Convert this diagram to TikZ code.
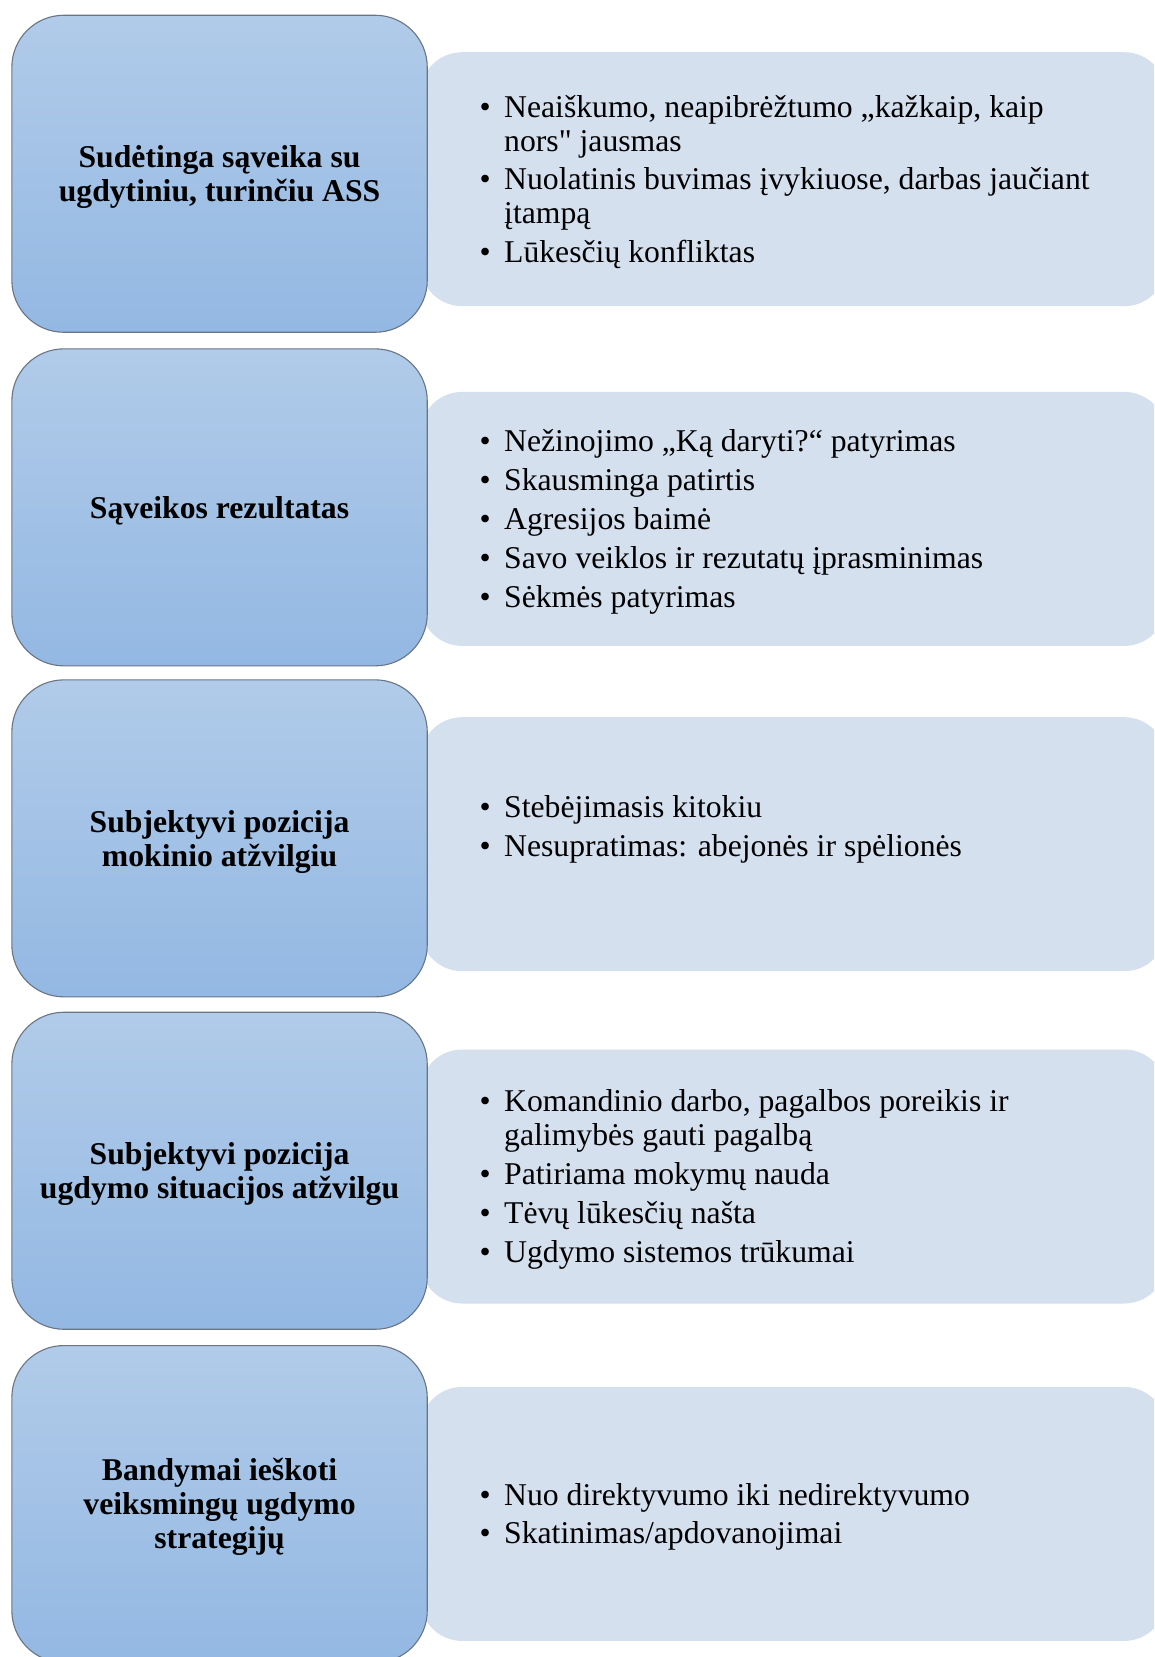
\documentclass[tikz,border=0pt]{standalone}
\usepackage{fontspec}
\setmainfont{Liberation Serif}[Ligatures=TeXOff]
\definecolor{boxtop}{RGB}{177,203,233}
\definecolor{boxbot}{RGB}{147,184,227}
\definecolor{boxline}{RGB}{105,117,133}
\definecolor{panelfill}{RGB}{213,224,239}
\newcommand{\bl}{\makebox[24.5pt][l]{\textbullet}}
\newcommand{\ind}{\hspace*{24.5pt}}
\tikzset{
  titlebox/.style={draw=boxline, line width=1.1pt, rounded corners=52pt,
    top color=boxtop, bottom color=boxbot,
    minimum width=415.4pt, minimum height=317pt, inner sep=0pt, anchor=north west},
  titletext/.style={inner sep=0pt, font=\bfseries\fontsize{31.7}{34}\selectfont},
  panel/.style={fill=panelfill, rounded corners=42pt,
    minimum width=746pt, minimum height=254pt, inner sep=0pt, anchor=north west},
  listtext/.style={anchor=west, inner sep=0pt, font=\fontsize{31.7}{34}\selectfont}
}
\begin{document}
\begin{tikzpicture}[x=1pt,y=-1pt]
\useasboundingbox (0,0) rectangle (1154,1657);
\clip (0,0) rectangle (1154,1657);
\fill[white] (0,0) rectangle (1154,1657);

% row 1
\node[panel] (p1) at (420,52) {};
\node[titlebox] (b1) at (11.3,14.7) {};
\node[titletext] (t1) at ([yshift=-4pt]b1.center) {\begin{tabular}{@{}c@{}}Sudėtinga sąveika su\\ugdytiniu, turinčiu ASS\end{tabular}};
\node[listtext] (l1) at (479.5,183) {\begin{tabular}{@{}l@{}}
\bl Neaiškumo, neapibrėžtumo „kažkaip, kaip\\
\ind nors" jausmas\\[4.8pt]
\bl Nuolatinis buvimas įvykiuose, darbas jaučiant\\
\ind įtampą\\[4.8pt]
\bl Lūkesčių konfliktas
\end{tabular}};

% row 2
\node[panel] (p2) at (420,391.7) {};
\node[titlebox] (b2) at (11.3,348.3) {};
\node[titletext] (t2) at ([yshift=-4pt]b2.center) {\begin{tabular}{@{}c@{}}Sąveikos rezultatas\end{tabular}};
\node[listtext] (l2) at (479.5,522.7) {\begin{tabular}{@{}l@{}}
\bl Nežinojimo „Ką daryti?“ patyrimas\\[4.8pt]
\bl Skausminga patirtis\\[4.8pt]
\bl Agresijos baimė\\[4.8pt]
\bl Savo veiklos ir rezutatų įprasminimas\\[4.8pt]
\bl Sėkmės patyrimas
\end{tabular}};

% row 3
\node[panel] (p3) at (420,717) {};
\node[titlebox] (b3) at (11.3,679.3) {};
\node[titletext] (t3) at ([yshift=-4pt]b3.center) {\begin{tabular}{@{}c@{}}Subjektyvi pozicija\\mokinio atžvilgiu\end{tabular}};
\node[listtext] (l3) at (479.5,830) {\begin{tabular}{@{}l@{}}
\bl Stebėjimasis kitokiu\\[4.8pt]
\bl Nesupratimas: abejonės ir spėlionės
\end{tabular}};

% row 4
\node[panel] (p4) at (420,1049.3) {};
\node[titlebox] (b4) at (11.3,1011.7) {};
\node[titletext] (t4) at ([yshift=-4pt]b4.center) {\begin{tabular}{@{}c@{}}Subjektyvi pozicija\\ugdymo situacijos atžvilgu\end{tabular}};
\node[listtext] (l4) at (479.5,1180.3) {\begin{tabular}{@{}l@{}}
\bl Komandinio darbo, pagalbos poreikis ir\\
\ind galimybės gauti pagalbą\\[4.8pt]
\bl Patiriama mokymų nauda\\[4.8pt]
\bl Tėvų lūkesčių našta\\[4.8pt]
\bl Ugdymo sistemos trūkumai
\end{tabular}};

% row 5
\node[panel] (p5) at (420,1386.7) {};
\node[titlebox] (b5) at (11.3,1345) {};
\node[titletext] (t5) at ([yshift=-4pt]b5.center) {\begin{tabular}{@{}c@{}}Bandymai ieškoti\\veiksmingų ugdymo\\strategijų\end{tabular}};
\node[listtext] (l5) at (479.5,1517.7) {\begin{tabular}{@{}l@{}}
\bl Nuo direktyvumo iki nedirektyvumo\\[4.8pt]
\bl Skatinimas/apdovanojimai
\end{tabular}};
\end{tikzpicture}
\end{document}
